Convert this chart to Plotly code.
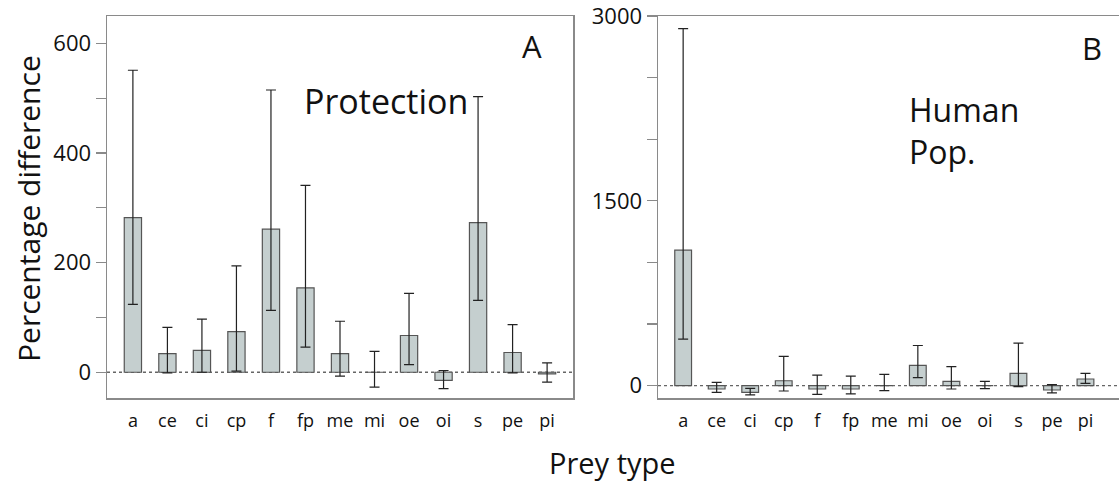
import plotly.graph_objects as go

categories = ["a", "ce", "ci", "cp", "f", "fp", "me", "mi", "oe", "oi", "s", "pe", "pi"]

# Panel A: Protection
prot_mean = [282, 34, 40, 74, 261, 154, 34, 0, 67, -15, 273, 36, -3]
prot_low = [124, -1, 0, 2, 113, 46, -7, -27, 14, -30, 131, -1, -18]
prot_high = [551, 82, 97, 194, 515, 341, 93, 38, 144, 3, 503, 87, 17]

# Panel B: Human population
hum_mean = [1100, -27, -54, 40, -27, -27, 0, 164, 35, 0, 100, -35, 54]
hum_low = [377, -54, -75, -43, -70, -67, -40, 65, -27, -24, -8, -59, 19]
hum_high = [2898, 27, -22, 237, 86, 78, 92, 326, 154, 35, 345, 8, 100]

A_tickvals = [0, 100, 200, 300, 400, 500, 600]
A_ticktext = ["0", "", "200", "", "400", "", "600"]
B_tickvals = [0, 500, 1000, 1500, 2000, 2500, 3000]
B_ticktext = ["0", "", "", "1500", "", "", "3000"]

W, H = 1119, 483
FONT = "Open Sans"
BAR_FILL = "#c5cfcf"
BAR_LINE = "#555555"
AXIS_COL = "#8a8a8a"


def px(x):
    return x / W


def py(y):
    return 1 - y / H


fig = go.Figure()

for mean, low, high, xa, ya in [
    (prot_mean, prot_low, prot_high, "x", "y"),
    (hum_mean, hum_low, hum_high, "x2", "y2"),
]:
    fig.add_trace(go.Bar(
        x=categories, y=mean, xaxis=xa, yaxis=ya, width=0.5,
        marker=dict(color=BAR_FILL, line=dict(color=BAR_LINE, width=1.2)),
        error_y=dict(type="data", symmetric=False,
                     array=[h - m for h, m in zip(high, mean)],
                     arrayminus=[m - l for m, l in zip(mean, low)],
                     color="#222222", thickness=1.2, width=5),
        showlegend=False, hoverinfo="x+y",
    ))

common_x = dict(
    type="category", showline=True, linecolor=AXIS_COL, linewidth=1.5,
    mirror=True, ticks="outside", ticklen=6, tickcolor="rgba(0,0,0,0)",
    tickfont=dict(family=FONT, size=18, color="#111"), automargin=False,
    ticklabeloverflow="allow",
    showgrid=False, zeroline=False, fixedrange=True,
)
common_y = dict(
    showline=True, linecolor=AXIS_COL, linewidth=1.5,
    ticks="outside", ticklen=10, tickcolor=AXIS_COL, tickwidth=1.2,
    tickfont=dict(family=FONT, size=22, color="#111"), automargin=False,
    ticklabeloverflow="allow",
    showgrid=False, zeroline=False, fixedrange=True,
)


def note(text, x, y, size, **kw):
    d = dict(text=text, x=px(x), y=py(y), xref="paper", yref="paper",
             xanchor="center", yanchor="middle", showarrow=False,
             font=dict(family=FONT, size=size, color="#111"))
    d.update(kw)
    return d


fig.update_layout(
    template="none",
    width=W, height=H,
    margin=dict(l=0, r=0, t=0, b=0, pad=0),
    paper_bgcolor="white", plot_bgcolor="white",
    xaxis=dict(common_x, domain=[px(107), px(573)], range=[-0.75, 12.75], anchor="y"),
    yaxis=dict(common_y, domain=[py(398), py(16)], range=[-47, 650], mirror=True,
               tickvals=A_tickvals, ticktext=A_ticktext, anchor="x"),
    xaxis2=dict(common_x, domain=[px(658), 1.0], range=[-0.75, 13.0], anchor="y2"),
    yaxis2=dict(common_y, domain=[py(398), py(16)], range=[-100, 3000], mirror=False,
                tickvals=B_tickvals, ticktext=B_ticktext, anchor="x2"),
    shapes=[
        dict(type="line", xref="x domain", yref="y", x0=0, x1=1, y0=0, y1=0,
             line=dict(color="#666", width=1.3, dash="dot"), layer="below"),
        dict(type="line", xref="x2 domain", yref="y2", x0=0, x1=1, y0=0, y1=0,
             line=dict(color="#666", width=1.3, dash="dot"), layer="below"),
    ],
    annotations=[
        note("A", 532, 46, 31),
        note("B", 1092, 48, 31),
        note("Protection", 386, 101, 34),
        note("Human<br>Pop.", 907, 130, 32, xanchor="left", align="left"),
        note("Percentage difference", 28, 209, 30, textangle=-90),
        note("Prey type", 612, 462, 29),
    ],
)

fig.write_html(
    "out.html",
    config={"displayModeBar": False, "staticPlot": True},
    post_script="document.body.style.margin='0px';document.body.style.overflow='hidden';",
)
